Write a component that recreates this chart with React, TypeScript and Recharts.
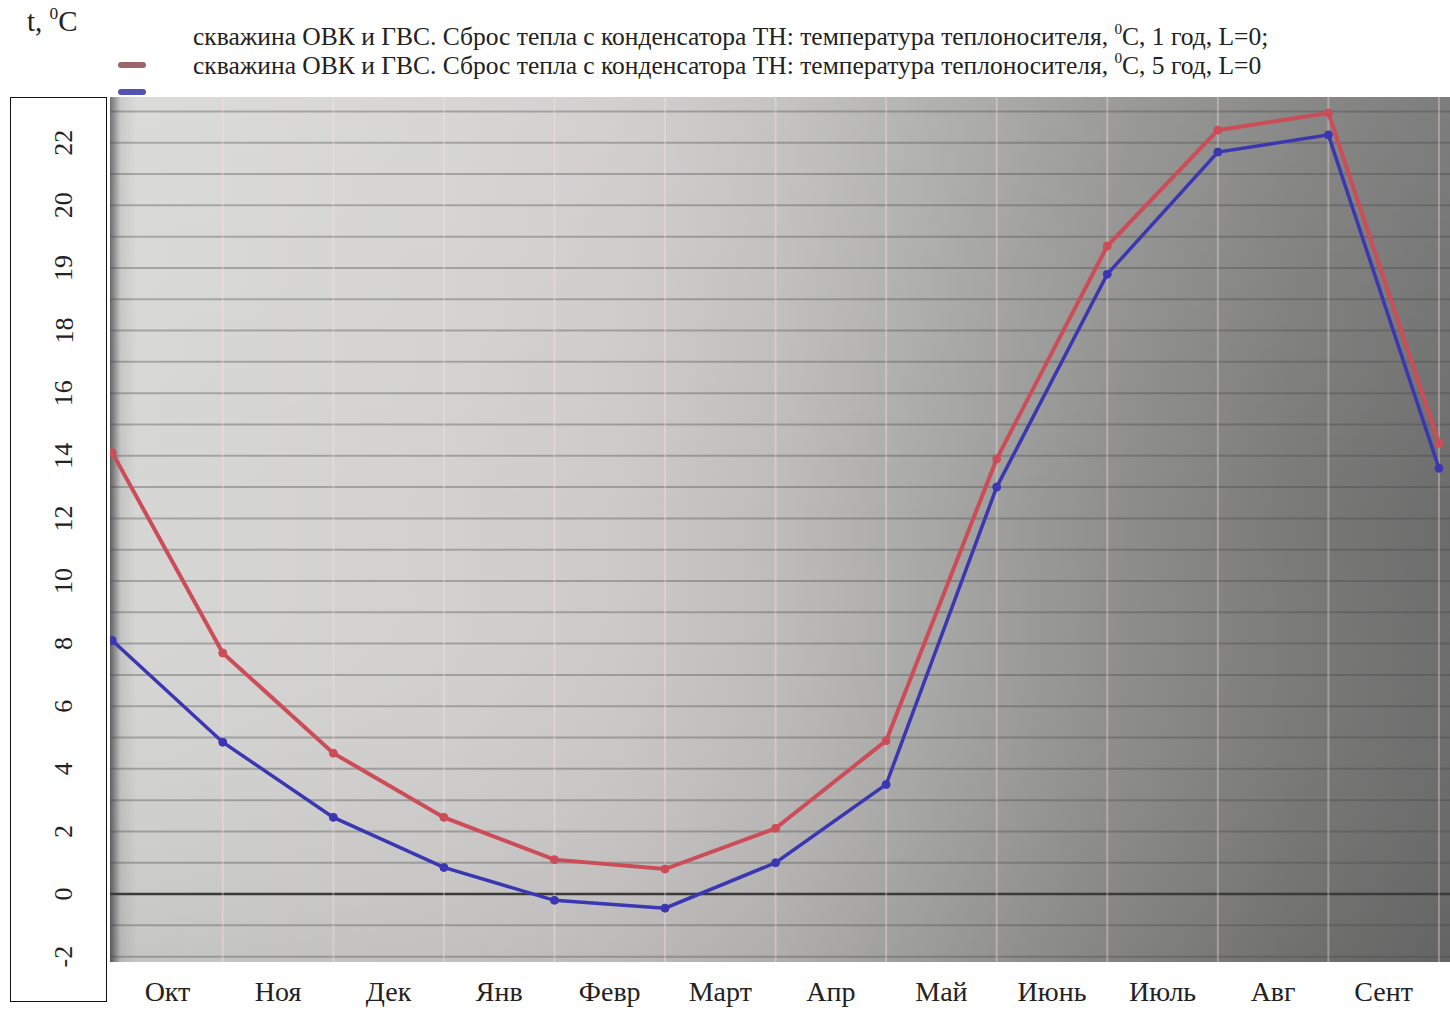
import React from 'react';
import {
  LineChart,
  Line,
  XAxis,
  YAxis,
  CartesianGrid,
  ReferenceLine,
  ReferenceArea,
} from 'recharts';

// month labels sit between the boundary points
const months = ['Окт', 'Ноя', 'Дек', 'Янв', 'Февр', 'Март', 'Апр', 'Май', 'Июнь', 'Июль', 'Авг', 'Сент'];

// temperature at each month boundary (13 points)
const year1 = [14.1, 7.7, 4.5, 2.45, 1.1, 0.8, 2.1, 4.9, 13.9, 20.7, 24.4, 24.95, 14.4];
const year5 = [8.1, 4.85, 2.45, 0.85, -0.2, -0.45, 1.0, 3.5, 13.0, 19.8, 23.7, 24.25, 13.6];

// printed axis labels (as in the original figure)
const yTicks = [-2, 0, 2, 4, 6, 8, 10, 12, 14, 16, 18, 20, 22, 24];
const yTickLabels = ['-2', '0', '2', '4', '6', '8', '10', '12', '14', '16', '18', '19', '20', '22'];
const gridLevels = [-2, -1, 0, 1, 2, 3, 4, 5, 6, 7, 8, 9, 10, 11, 12, 13, 14, 15, 16, 17, 18, 19, 20, 21, 22, 23, 24, 25];

const legendLabels = [
  'скважина ОВК и ГВС. Сброс тепла с конденсатора ТН: температура теплоносителя, ⁰C, 1 год, L=0;',
  'скважина ОВК и ГВС. Сброс тепла с конденсатора ТН: температура теплоносителя, ⁰C, 5 год, L=0',
];

const series = [
  { key: 'y1', name: legendLabels[0], color: '#cc4c57', marker: '#8c4a4e', width: 4 },
  { key: 'y5', name: legendLabels[1], color: '#3b36b2', marker: '#3434a4', width: 3.5 },
];

const data = year1.map((v, i) => ({ x: i, y1: v, y5: year5[i] }));
const monthTicks = months.map((_, i) => i + 0.5);

const SERIF = '"Liberation Serif", "Times New Roman", serif';

const withSup = (s: string) => {
  const parts = s.split('⁰');
  return (
    <>
      {parts[0]}
      {parts.length > 1 && <sup style={{ fontSize: '0.6em', verticalAlign: '0.7em', lineHeight: 0 }}>0</sup>}
      {parts[1]}
    </>
  );
};

const YTick = (props: any) => {
  const { x, y, payload } = props;
  const idx = yTicks.indexOf(payload.value);
  return (
    <text
      x={x}
      y={y}
      transform={`rotate(-90, ${x}, ${y})`}
      textAnchor="middle"
      dominantBaseline="central"
      fontFamily={SERIF}
      fontSize={26}
      fill="#222"
    >
      {idx >= 0 ? yTickLabels[idx] : payload.value}
    </text>
  );
};

export default function App() {
  return (
    <div
      style={{
        position: 'absolute',
        left: 0,
        top: 0,
        width: 1450,
        height: 1012,
        background: '#fff',
        overflow: 'hidden',
        fontFamily: SERIF,
      }}
    >
      {/* axis title */}
      <div style={{ position: 'absolute', left: 27, top: 5, fontSize: 29, color: '#222' }}>
        t, <sup style={{ fontSize: '0.6em', verticalAlign: '0.7em', lineHeight: 0 }}>0</sup>C
      </div>

      {/* legend */}
      {series.map((s, i) => (
        <React.Fragment key={s.key}>
          <div
            style={{
              position: 'absolute',
              left: 193,
              top: 22 + i * 29,
              fontSize: 25.5,
              color: '#222',
              whiteSpace: 'nowrap',
              lineHeight: '30px',
            }}
          >
            {withSup(s.name)}
          </div>
          <div
            style={{
              position: 'absolute',
              left: 118,
              top: 62 + i * 27,
              width: 28,
              height: 6,
              borderRadius: 3,
              background: s.marker,
              opacity: 0.85,
            }}
          />
        </React.Fragment>
      ))}

      {/* label box round the y axis */}
      <div
        style={{
          position: 'absolute',
          left: 10,
          top: 97,
          width: 97,
          height: 905,
          border: '1.5px solid #111',
          boxSizing: 'border-box',
        }}
      />

      <div style={{ position: 'absolute', left: 0, top: 0 }}>
        <LineChart width={1450} height={1012} data={data} margin={{ top: 97, right: 0, left: 10, bottom: 0 }}>
          <defs>
            <linearGradient id="bgH" x1="0" y1="0" x2="1" y2="0">
              <stop offset="0" stopColor="#5e5e5e" />
              <stop offset="0.008" stopColor="#c4c4c4" />
              <stop offset="0.02" stopColor="#d6d6d4" />
              <stop offset="0.25" stopColor="#d2d1d0" />
              <stop offset="0.38" stopColor="#cdc9c9" />
              <stop offset="0.5" stopColor="#bdbcbb" />
              <stop offset="0.62" stopColor="#a6a6a5" />
              <stop offset="0.75" stopColor="#8e8e8d" />
              <stop offset="0.88" stopColor="#7a7a79" />
              <stop offset="1" stopColor="#6c6c6c" />
            </linearGradient>
            <linearGradient id="bgV" x1="0" y1="0" x2="0" y2="1">
              <stop offset="0" stopColor="#ffffff" stopOpacity={0.12} />
              <stop offset="0.5" stopColor="#ffffff" stopOpacity={0} />
              <stop offset="1" stopColor="#000000" stopOpacity={0.08} />
            </linearGradient>
          </defs>
          <CartesianGrid fill="url(#bgH)" horizontal={false} vertical={false} />
          <XAxis
            dataKey="x"
            type="number"
            domain={[-0.02, 12.1]}
            ticks={monthTicks}
            interval={0}
            tickFormatter={(v) => months[Math.floor(v)]}
            axisLine={false}
            tickLine={false}
            tickSize={0}
            tickMargin={19}
            height={50}
            allowDataOverflow
            tick={{ fontFamily: SERIF, fontSize: 28, fill: '#222' }}
          />
          <YAxis
            type="number"
            domain={[-2.17, 25.46]}
            ticks={yTicks}
            interval={0}
            axisLine={false}
            tickLine={false}
            tickSize={0}
            tickMargin={46}
            width={100}
            allowDataOverflow
            tick={<YTick />}
          />
          <ReferenceArea y1={-2.17} y2={25.46} fill="url(#bgV)" fillOpacity={1} stroke="none" ifOverflow="hidden" />
          {gridLevels.map((g) => (
            <ReferenceLine
              key={`h${g}`}
              y={g}
              stroke={g === 0 ? '#3a3a3a' : 'rgba(70,70,70,0.35)'}
              strokeWidth={g === 0 ? 2.5 : 2}
              ifOverflow="hidden"
            />
          ))}
          {data.slice(1).map((d) => (
            <ReferenceLine key={`v${d.x}`} x={d.x} stroke="rgba(255,225,225,0.35)" strokeWidth={2} />
          ))}
          {series.map((s) => (
            <Line
              key={s.key}
              type="linear"
              dataKey={s.key}
              name={s.name}
              stroke={s.color}
              strokeWidth={s.width}
              dot={{ r: 4, fill: s.color, stroke: s.color, strokeWidth: 1 }}
              isAnimationActive={false}
            />
          ))}
        </LineChart>
      </div>
    </div>
  );
}
